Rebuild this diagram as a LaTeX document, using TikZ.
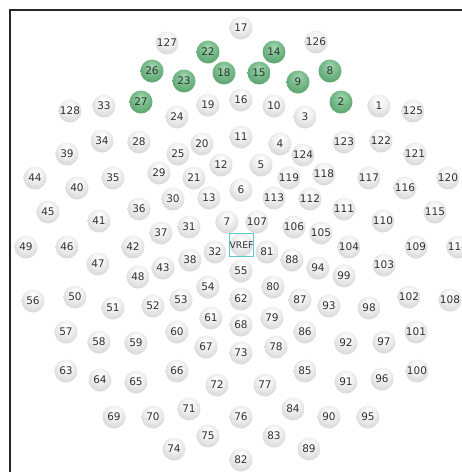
\documentclass[tikz,border=0pt]{standalone}
\usepackage{fontspec}
\newfontfamily\efont{DejaVu Sans}
\definecolor{txt}{RGB}{50,50,50}
\definecolor{vrefc}{RGB}{95,200,205}
\pgfdeclareradialshading{grayball}{\pgfpoint{0bp}{12bp}}{color(0bp)=(white); color(12bp)=(white!96!black); color(40bp)=(black!21); color(62bp)=(black!30)}
\pgfdeclareradialshading{greenball}{\pgfpoint{0bp}{12bp}}{color(0bp)=(rgb,255:red,165;green,215;blue,178); color(12bp)=(rgb,255:red,130;green,195;blue,148); color(40bp)=(rgb,255:red,70;green,148;blue,92); color(62bp)=(rgb,255:red,45;green,120;blue,68)}
\tikzset{
  eball/.style={circle, shading=grayball, minimum size=23pt, inner sep=0pt, font=\efont\fontsize{10.5}{10.5}\selectfont, text=txt},
  gball/.style={eball, shading=greenball, text=black!80},
  vrefbox/.style={draw=vrefc, line width=0.9pt, minimum width=23pt, minimum height=23.5pt, inner sep=0pt, font=\efont\fontsize{9.2}{9.2}\selectfont, text=txt}
}
\begin{document}
\begin{tikzpicture}[x=1pt,y=-1pt]
\useasboundingbox (0,0) rectangle (462,472);
\fill[white] (0,0) rectangle (462,472);
\draw[line width=2pt, black!85] (10,472) -- (10,10) -- (462,10);
\foreach \n/\x/\y in {
1/379/106, 3/305/117, 4/280/144, 5/261/165, 6/241/190, 7/227/222,
10/274/106, 11/241/137, 12/221/165, 13/209/198, 16/241/100, 17/241/28,
19/208/105, 20/202/144, 21/194/178, 24/177/117, 25/178/154,
28/139/142, 29/159/173, 30/173/199, 31/189/227, 32/215/252, 33/104/106,
34/102/141, 35/113/178, 36/139/209, 37/161/233, 38/190/260, 39/67/154,
40/77/188, 41/99/221, 42/133/247, 43/163/268, 44/35/178, 45/48/212,
46/67/247, 47/98/264, 48/138/277, 49/26/247, 50/75/297, 51/113/308,
52/153/306, 53/181/300, 54/208/287, 55/241/271, 56/33/301, 57/66/332,
58/99/342, 59/136/343, 60/177/332, 61/211/318, 62/241/299, 63/66/371,
64/100/380, 65/136/382, 66/177/371, 67/206/347, 68/241/325, 69/114/417,
70/153/417, 71/189/409, 72/217/385, 73/241/353, 74/174/449, 75/208/436,
76/241/417, 77/265/385, 78/276/347, 79/272/318, 80/273/287, 81/267/252,
82/241/460, 83/274/436, 84/293/409, 85/305/371, 86/305/332, 87/300/300,
88/292/260, 89/309/449, 90/329/417, 91/346/382, 92/346/343, 93/329/306,
94/318/268, 95/368/417, 96/382/379, 97/384/342, 98/369/308, 99/344/276,
100/417/371, 101/416/332, 102/409/297, 103/384/265, 104/349/247, 105/321/233,
106/294/227, 107/257/222, 108/450/300, 109/416/247, 110/383/221, 111/344/209,
112/310/199, 113/274/198, 114/458/247, 115/435/212, 116/405/188, 117/369/178,
118/324/174, 119/289/178, 120/448/178, 121/415/154, 122/381/141, 123/344/142,
124/303/155, 125/413/111, 126/316/42, 127/167/43, 128/70/111}
  \node[eball] (e\n) at (\x,\y) {\n};
\foreach \n/\x/\y in {
2/341/102, 8/330/71, 9/298/82, 14/274/52, 15/259/73, 18/224/73,
22/208/52, 23/184/81, 26/152/71, 27/141/102}
  \node[gball] (e\n) at (\x,\y) {\n};
\node[eball] (vball) at (241.5,245) {};
\node[vrefbox] (vref) at (241.5,245) {VREF};
\end{tikzpicture}
\end{document}
